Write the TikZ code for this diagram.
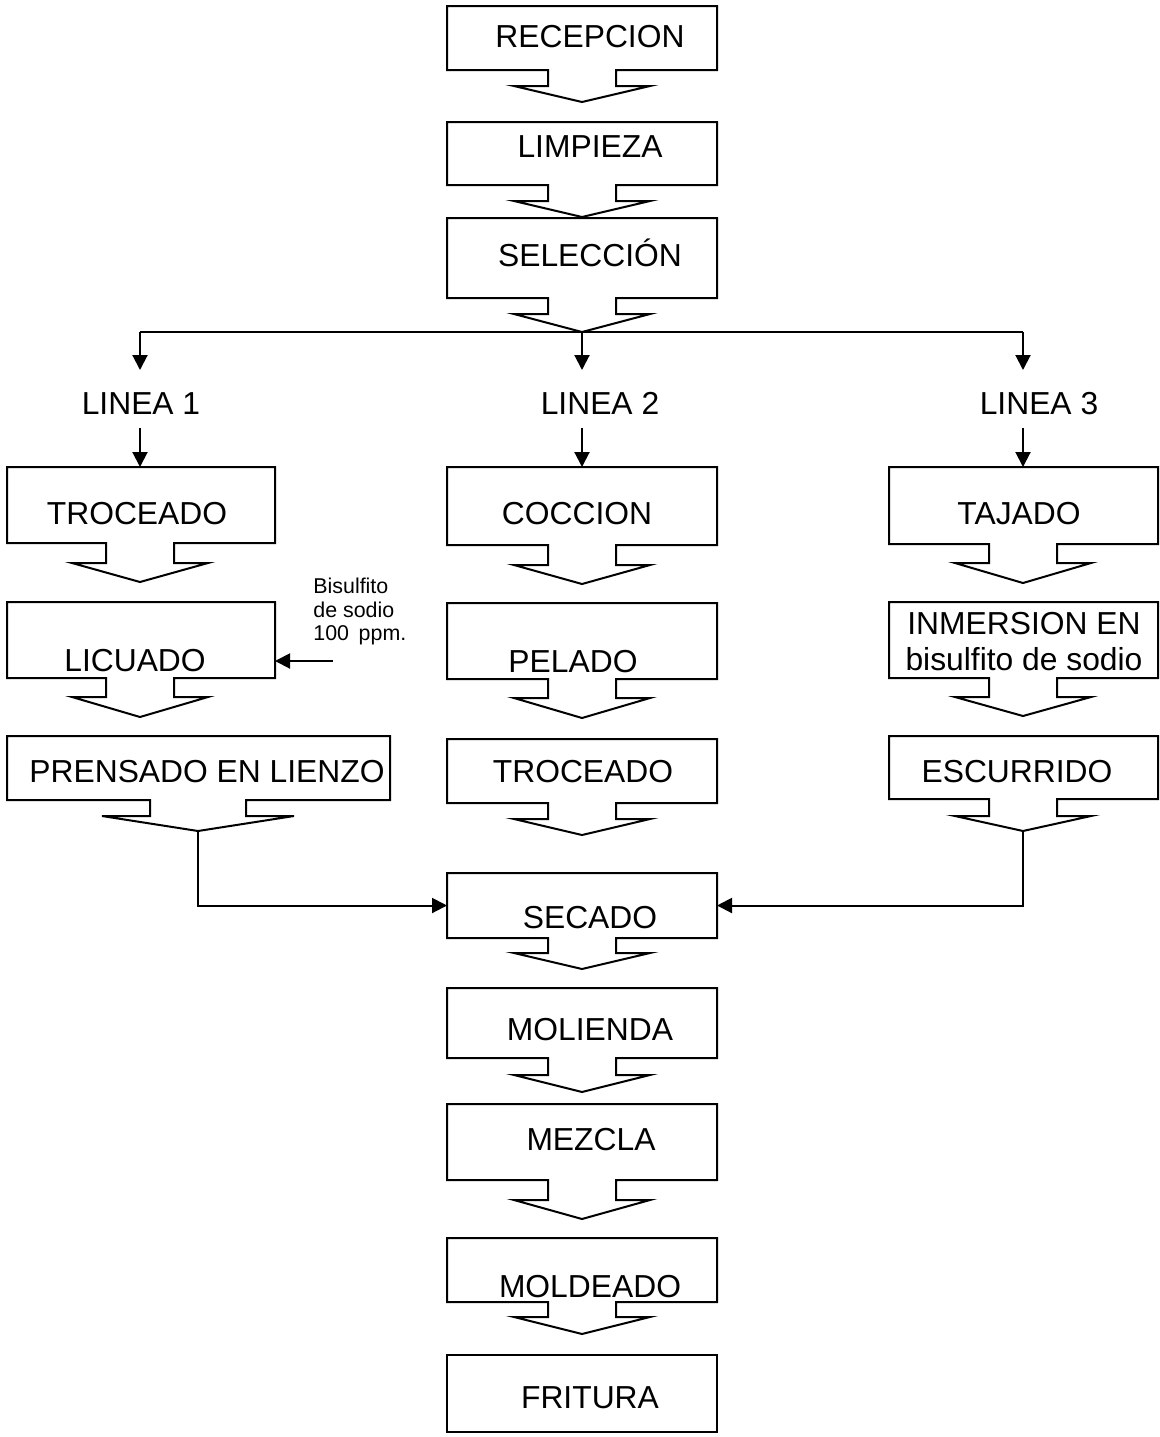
\documentclass[tikz,border=0pt]{standalone}
\usepackage{fontspec}
\setmainfont{Liberation Sans}
\usetikzlibrary{arrows.meta}

% box with its own down arrow: [stem half width] name, left, right, arrow x, top, bottom, stem end, tip
\newcommand{\arrowbox}[9][34]{%
  \draw[boxline] (#3,#6) -- (#4,#6) -- (#4,#7) -- (#5+#1,#7) -- (#5+#1,#8) -- (#5+2*#1,#8)
    -- (#5,#9) -- (#5-2*#1,#8) -- (#5-#1,#8) -- (#5-#1,#7) -- (#3,#7) -- cycle;
  \coordinate (#2-top) at (#5,#6);
  \coordinate (#2-tip) at (#5,#9);
  \coordinate (#2-w) at (#3,{(#6+#7)/2});
  \coordinate (#2-e) at (#4,{(#6+#7)/2});
}

\begin{document}
\begin{tikzpicture}[x=0.5pt, y=-0.5pt,
    boxline/.style={line width=1pt, line join=miter},
    flow/.style={line width=1pt, -{Triangle[length=7.5pt, width=7.5pt]}},
    txt/.style={anchor=base, inner sep=0pt, font=\fontsize{15.9pt}{18pt}\selectfont},
    note/.style={anchor=north west, inner sep=0pt, align=left, font=\fontsize{10.7pt}{11.75pt}\selectfont}]
    \useasboundingbox (0,0) rectangle (1160,1437);

    \arrowbox{recep}{447}{717}{582}{6}{70}{86}{102}
    \arrowbox{limp}{447}{717}{582}{122}{185}{201}{217}
    \arrowbox{sel}{447}{717}{582}{218}{298}{314}{332}

    \arrowbox{troc1}{7}{275}{140}{467}{543}{563}{582}
    \arrowbox{lic}{7}{275}{140}{602}{678}{697}{717}
    \arrowbox[48]{prens}{7}{390}{198}{736}{800}{816}{831}

    \arrowbox{cocc}{447}{717}{582}{467}{545}{565}{584}
    \arrowbox{pel}{447}{717}{582}{603}{679}{698}{718}
    \arrowbox{troc2}{447}{717}{582}{739}{803}{819}{835}

    \arrowbox{taj}{889}{1158}{1023}{467}{544}{563}{583}
    \arrowbox{inm}{889}{1158}{1023}{602}{678}{697}{716}
    \arrowbox{esc}{889}{1158}{1023}{736}{799}{816}{831}

    \arrowbox{sec}{447}{717}{582}{873}{938}{953}{969}
    \arrowbox{mol}{447}{717}{582}{988}{1058}{1075}{1092}
    \arrowbox{mez}{447}{717}{582}{1104}{1180}{1200}{1219}
    \arrowbox{mold}{447}{717}{582}{1238}{1302}{1317}{1334}
    \draw[boxline] (447,1355) rectangle (717,1432);

    \node[txt] (recep-t) at (590,47) {RECEPCION};
    \node[txt] (limp-t) at (590,157) {LIMPIEZA};
    \node[txt] (sel-t) at (590,266) {SELECCIÓN};

    \node[txt] (linea1) at (141,414) {LINEA 1};
    \node[txt] (linea2) at (600,414) {LINEA 2};
    \node[txt] (linea3) at (1039,414) {LINEA 3};

    \node[txt] (troc1-t) at (137,524) {TROCEADO};
    \node[txt] (lic-t) at (135,671) {LICUADO};
    \node[txt] (prens-t) at (207,782) {PRENSADO EN LIENZO};
    \node[txt] (cocc-t) at (577,524) {COCCION};
    \node[txt] (pel-t) at (573,672) {PELADO};
    \node[txt] (troc2-t) at (583,782) {TROCEADO};
    \node[txt] (taj-t) at (1019,524) {TAJADO};
    \node[txt, anchor=north, align=center] (inm-t) at (1024,612) {INMERSION EN\\bisulfito de sodio};
    \node[txt] (esc-t) at (1017,782) {ESCURRIDO};
    \node[txt] (sec-t) at (590,928) {SECADO};
    \node[txt] (mol-t) at (590,1040) {MOLIENDA};
    \node[txt] (mez-t) at (591,1150) {MEZCLA};
    \node[txt] (mold-t) at (590,1297) {MOLDEADO};
    \node[txt] (frit-t) at (590,1408) {FRITURA};

    \node[note] (bis-t) at (313,578) {Bisulfito\\de sodio\\100\hspace{0.45em}ppm.};

    \coordinate (l1a) at (140,332);
    \coordinate (l3a) at (1023,332);
    \coordinate (l1b) at (140,370);
    \coordinate (l2b) at (582,370);
    \coordinate (l3b) at (1023,370);
    \coordinate (l1c) at (140,428);
    \coordinate (l2c) at (582,428);
    \coordinate (l3c) at (1023,428);
    \coordinate (bis) at (333,661);

    \draw[boxline] (l1a) -- (l3a);
    \draw[flow] (l1a) -- (l1b);
    \draw[flow] (sel-tip) -- (l2b);
    \draw[flow] (l3a) -- (l3b);
    \draw[flow] (l1c) -- (troc1-top);
    \draw[flow] (l2c) -- (cocc-top);
    \draw[flow] (l3c) -- (taj-top);

    \draw[flow] (bis) -- (bis -| lic-e);
    \draw[flow] (prens-tip) |- (sec-w);
    \draw[flow] (esc-tip) |- (sec-e);
\end{tikzpicture}
\end{document}
